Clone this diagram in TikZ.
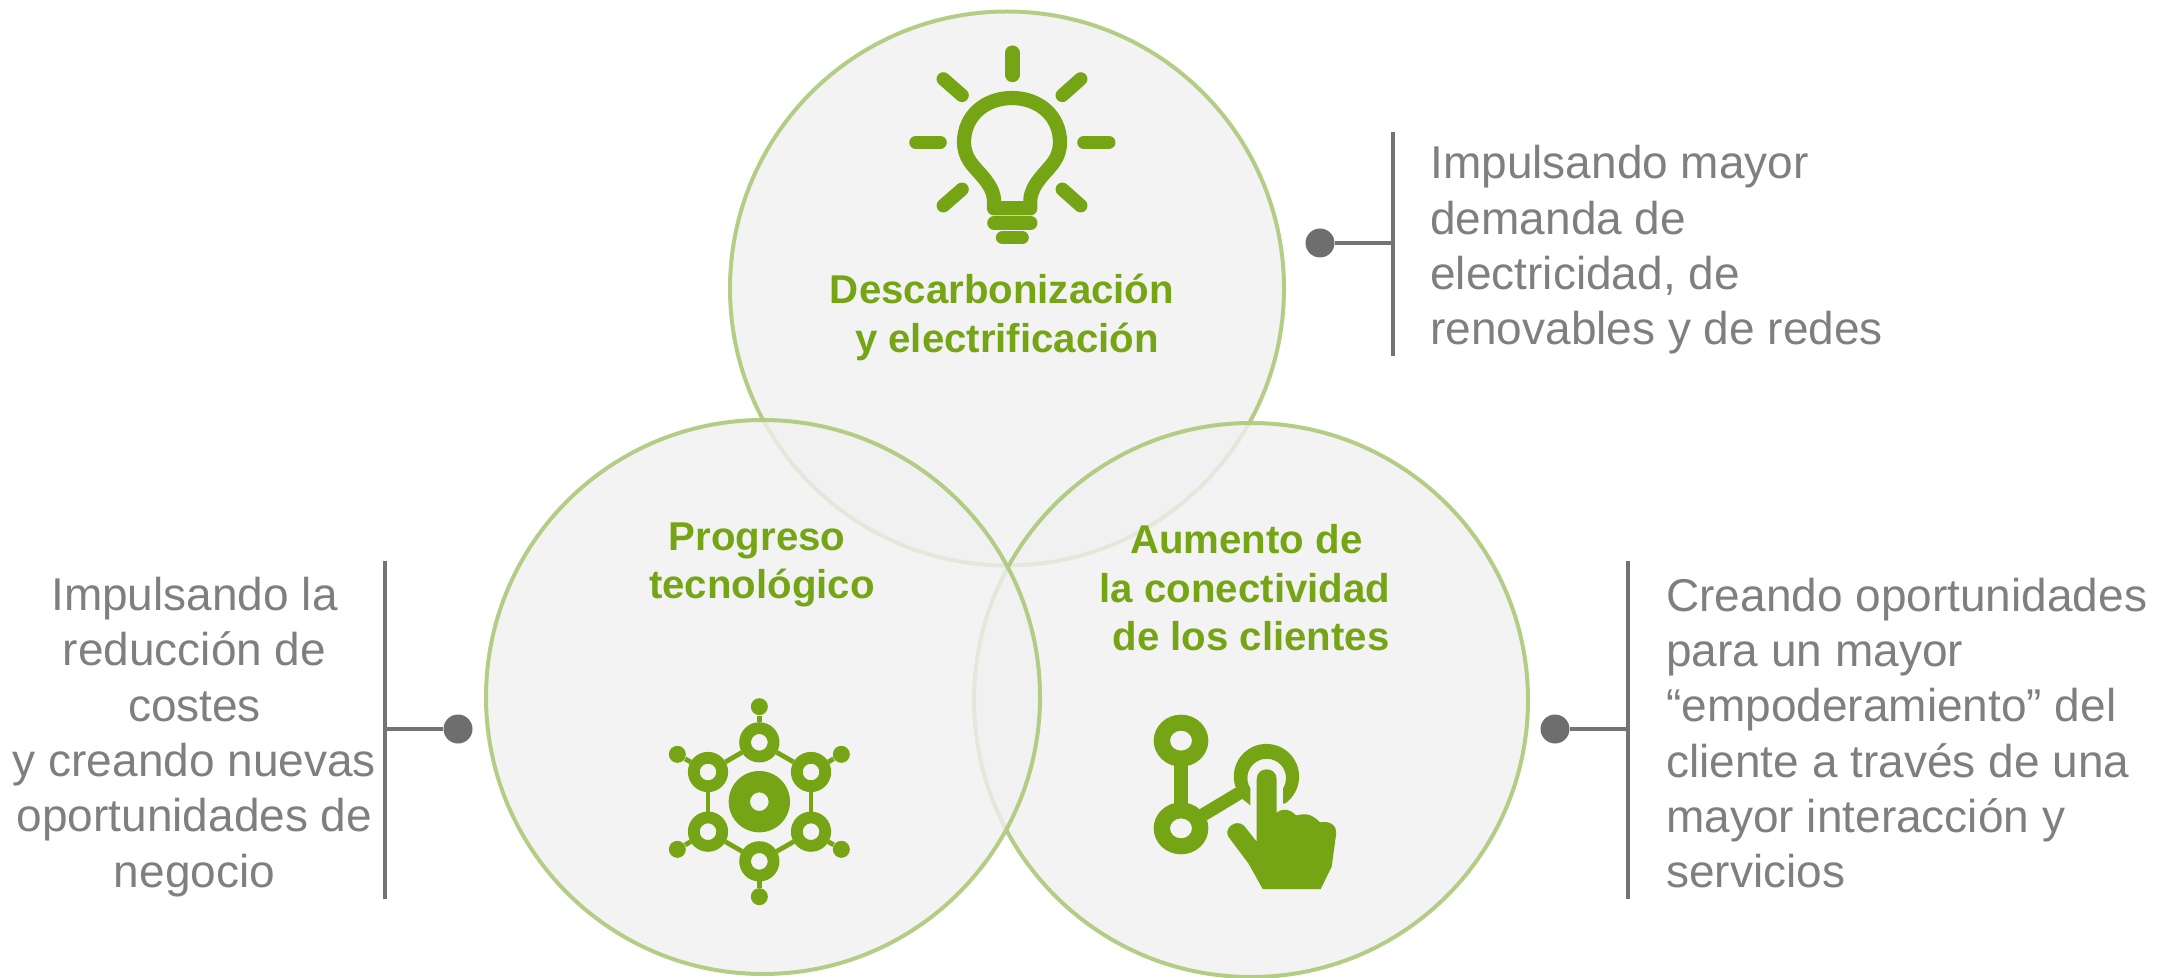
\documentclass[tikz,border=0pt]{standalone}
\usepackage{fontspec}
\setmainfont{Liberation Sans}
\definecolor{leaf}{HTML}{75A515}
\definecolor{ringline}{HTML}{B0CB80}
\definecolor{disc}{HTML}{F0F0F0}
\definecolor{ink}{HTML}{7F7F7F}
\definecolor{rule}{HTML}{737373}
\definecolor{dotgrey}{HTML}{6E6E6E}
\tikzset{
 bigcircle/.style={circle,draw=ringline,line width=2pt,fill=disc,fill opacity=.8,draw opacity=.95,minimum size=277pt,inner sep=0pt},
 title/.style={font=\fontsize{20.1}{24.3}\selectfont\bfseries,text=leaf,align=center,inner sep=0pt},
 body/.style={font=\fontsize{23}{27.65}\selectfont,text=ink,inner sep=0pt},
 dotnode/.style={circle,fill=dotgrey,minimum size=14.5pt,inner sep=0pt},
 leader/.style={draw=rule,line width=1.7pt},
 barline/.style={draw=rule,line width=2.3pt},
 ringnode/.style={circle,draw=leaf,line width=5.9pt,minimum size=14.2pt,inner sep=0pt},
 tipnode/.style={circle,fill=leaf,minimum size=8.5pt,inner sep=0pt},
 netline/.style={draw=leaf,line width=2.4pt},
}
\begin{document}
\begin{tikzpicture}[x=.5pt,y=-.5pt]
\useasboundingbox (0,0) rectangle (2163,978);
\node[bigcircle] (ctop) at (1007,288.5) {};
\node[bigcircle] (cright) at (1251,700) {};
\node[bigcircle] (cleft) at (763,697) {};

\node[title] (t1) at (1002,317.5) {Descarbonización\\\hspace*{5pt}y electrificación};
\node[title] (t2) at (762,565) {Progreso\hspace*{4.8pt}\\tecnológico};
\node[title] (t3) at (1245,588) {\hspace*{1.4pt}Aumento de\\la conectividad\\\hspace*{6pt}de los clientes};

\node[body,align=left,anchor=west] (b1) at (1430,250) {Impulsando mayor\\demanda de\\electricidad, de\\renovables y de redes};
\node[body,align=center] (b2) at (194.5,737) {Impulsando la\\reducción de\\costes\\y creando nuevas\\oportunidades de\\negocio};
\node[body,align=left,anchor=west] (b3) at (1666,733) {Creando oportunidades\\para un mayor\\“empoderamiento” del\\cliente a través de una\\mayor interacción y\\servicios};

% leaders
\node[dotnode] (d1) at (1320,243) {};
\coordinate (j1) at (1393,243);
\draw[leader] (d1) -- (j1);
\draw[barline] (1393,132) -- (j1) -- (1393,356);
\node[dotnode] (d2) at (458,729) {};
\coordinate (j2) at (385,729);
\draw[leader] (d2) -- (j2);
\draw[barline] (385,561) -- (j2) -- (385,899);
\node[dotnode] (d3) at (1555,729) {};
\coordinate (j3) at (1628,729);
\draw[leader] (d3) -- (j3);
\draw[barline] (1628,561) -- (j3) -- (1628,899);

% bulb
\begin{scope}[shift={(880,20)},x=.16667pt,y=-.16667pt]
\draw[leaf,line width=7.1pt,line join=round]
 (342,565) -- (342,538) .. controls (338,490) and (290,455) .. (270,425)
 .. controls (258,408) and (252,388) .. (252,367)
 .. controls (252,287) and (316,234) .. (396,234)
 .. controls (476,234) and (540,287) .. (540,367)
 .. controls (540,388) and (534,408) .. (522,425)
 .. controls (502,455) and (455,490) .. (451,538) -- (451,565) -- cycle;
\begin{scope}[leaf,line cap=round,line width=6.8pt]
\draw (342,609) -- (452,609);
\draw (368,653) -- (426,653);
\draw[line width=7.2pt] (397,98) -- (397,165);
\draw (108,367) -- (180,367);
\draw (612,367) -- (686,367);
\draw (190,177) -- (246,226);
\draw (602,177) -- (547,226);
\draw (190,557) -- (246,508);
\draw (602,557) -- (547,508);
\end{scope}
\end{scope}

% network
\begin{scope}[shift={(650,680)},x=.16667pt,y=-.16667pt]
\fill[leaf,even odd rule] (328,365) circle[radius=92] (328,365) circle[radius=28];
\node[ringnode] (r1) at (328,187) {};
\node[ringnode] (r2) at (483,276) {};
\node[ringnode] (r3) at (483,455) {};
\node[ringnode] (r4) at (328,544) {};
\node[ringnode] (r5) at (174,455) {};
\node[ringnode] (r6) at (174,276) {};
\node[tipnode] (p1) at (328,80) {};
\node[tipnode] (p2) at (574,223) {};
\node[tipnode] (p3) at (574,508) {};
\node[tipnode] (p4) at (328,650) {};
\node[tipnode] (p5) at (82,508) {};
\node[tipnode] (p6) at (82,223) {};
\foreach \a/\b in {r1/r2,r2/r3,r3/r4,r4/r5,r5/r6,r6/r1,r1/p1,r2/p2,r3/p3,r4/p4,r5/p5,r6/p6}
 \draw[netline] (\a) -- (\b);
\end{scope}

% hand
\begin{scope}[shift={(1130,690)},x=.16667pt,y=-.16667pt]
\fill[leaf,even odd rule] (153,152) ellipse[x radius=82,y radius=78] (153,152) ellipse[x radius=33,y radius=30];
\fill[leaf,even odd rule] (153,415) ellipse[x radius=82,y radius=78] (153,415) ellipse[x radius=33,y radius=30];
\fill[leaf] (133,225) rectangle (175,345);
\fill[leaf] (208,358) -- (318,292) -- (338,326) -- (232,390) -- cycle;
\fill[leaf] (464,341) arc[start angle=56,end angle=-195,radius=98] -- (335,325) -- (361,346) -- (361,295)
  arc[start angle=-212,end angle=32,radius=58] -- (459,341) -- cycle;
\fill[leaf] (380,268) .. controls (380,228) and (440,228) .. (440,268) -- (440,368)
 .. controls (462,352) and (480,358) .. (498,376) .. controls (520,372) and (540,366) .. (570,397)
 .. controls (600,392) and (622,405) .. (618,435) -- (605,530) -- (572,597) -- (398,597) -- (355,520) -- (295,440)
 .. controls (280,415) and (318,385) .. (342,407) -- (380,455) -- cycle;
\end{scope}
\end{tikzpicture}
\end{document}
